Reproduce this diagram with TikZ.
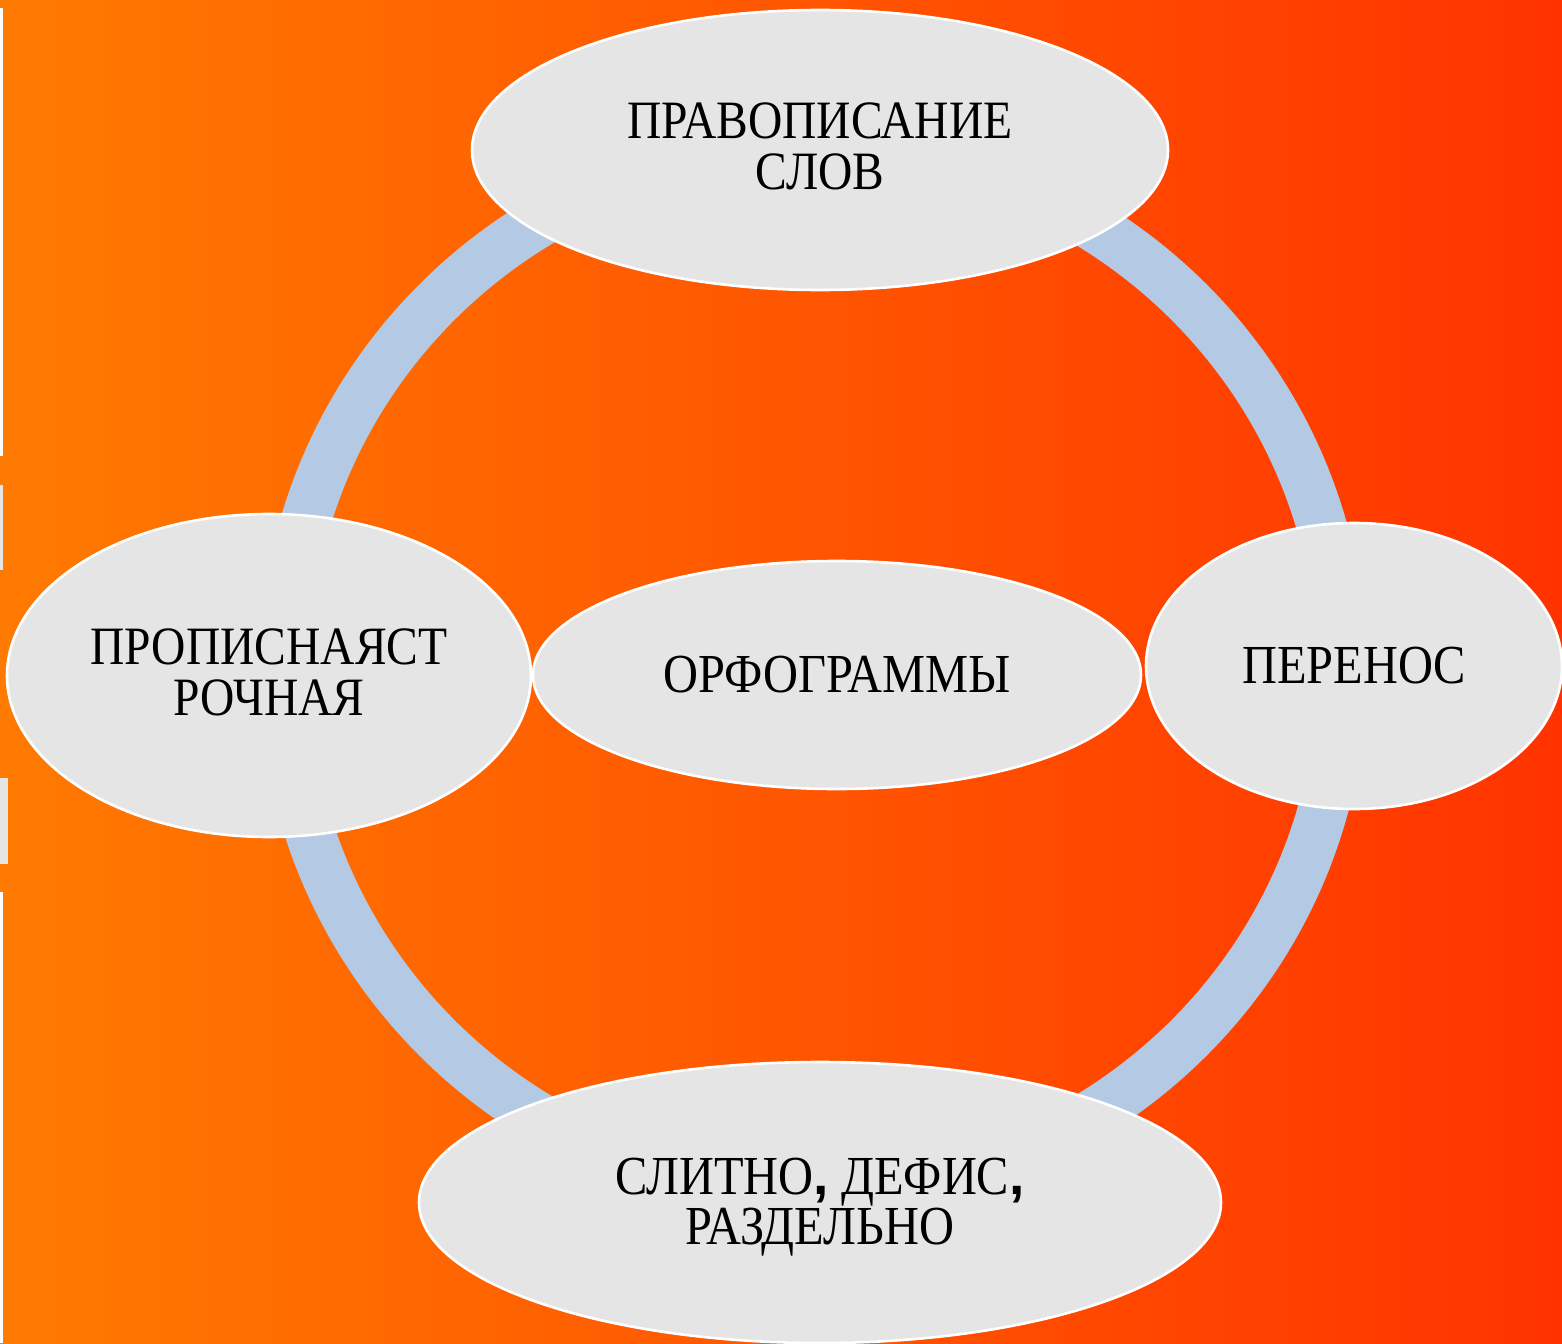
\documentclass[tikz,border=0pt]{standalone}
\usepackage{fontspec}
\setmainfont{Liberation Serif}[FakeStretch=0.88]
\newfontfamily\commafont{Liberation Sans}
\usetikzlibrary{shapes.geometric}
\definecolor{bgL}{HTML}{FF7A00}
\definecolor{bgR}{HTML}{FF3300}
\definecolor{ring}{HTML}{B3C9E4}
\definecolor{bubble}{HTML}{E5E5E5}
\tikzset{
  bubble/.style={ellipse, fill=bubble, draw=white, line width=1.3pt, inner sep=0pt, outer sep=0pt, text=black},
  txtA/.style={font=\fontsize{27}{25.5}\selectfont},
  txtB/.style={font=\fontsize{27.5}{25.5}\selectfont},
  txtC/.style={font=\fontsize{27.5}{25}\selectfont},
  label/.style={align=center, inner sep=0pt, text=black},
  edgestrip/.style={fill=white, draw=none},
  edgegray/.style={fill=bubble, draw=none}
}
\begin{document}
\begin{tikzpicture}[x=0.5pt,y=-0.5pt]
\useasboundingbox (0,0) rectangle (1562,1343);
\shade[left color=bgL, right color=bgR] (0,0) rectangle (1562,1343);
% left edge artifacts
\fill[edgestrip] (0,8) rectangle (3,456);
\fill[edgegray] (0,485) rectangle (3,570);
\fill[edgegray] (0,778) rectangle (8,864);
\fill[edgestrip] (0,892) rectangle (3,1343);
% ring
\coordinate (c) at (813,670);
\draw[ring, line width=25pt] (c) ellipse [x radius=529, y radius=523];
% bubbles
\node[bubble, minimum width=348pt, minimum height=140pt] (top) at (820,150) {};
\node[bubble, minimum width=262pt, minimum height=161.5pt] (left) at (269,675.5) {};
\node[bubble, minimum width=304pt, minimum height=114pt] (mid) at (837,675) {};
\node[bubble, minimum width=208pt, minimum height=143pt] (right) at (1354,666) {};
\node[bubble, minimum width=401pt, minimum height=140.5pt] (bottom) at (820,1202.5) {};
% texts
\node[label, txtA] (toptext) at (820,146) {ПРАВОПИСАНИЕ\\СЛОВ};
\node[label, txtA] (lefttext) at (269,672.5) {ПРОПИСНАЯСТ\\РОЧНАЯ};
\node[label, txtB] (midtext) at (837,675) {ОРФОГРАММЫ};
\node[label, txtB] (righttext) at (1354,666) {ПЕРЕНОС};
\node[label, txtC] (bottomtext) at (820,1207) {СЛИТНО{\commafont\bfseries,} ДЕФИС{\commafont\bfseries,}\\РАЗДЕЛЬНО};
\end{tikzpicture}
\end{document}
